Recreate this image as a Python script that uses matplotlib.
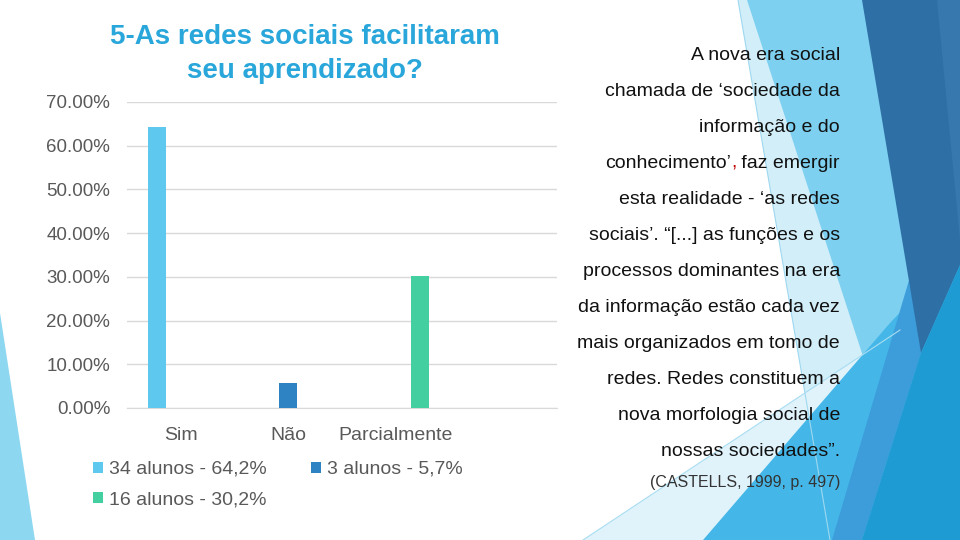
import matplotlib
matplotlib.use("Agg")
import matplotlib.pyplot as plt
from matplotlib.patches import Polygon
from matplotlib.ticker import FuncFormatter

plt.rcParams['font.family'] = ['Liberation Sans', 'DejaVu Sans']

# chart data
categories = ["Sim", "Não", "Parcialmente", ""]
series_labels = ["34 alunos - 64,2%", "3 alunos - 5,7%", "16 alunos - 30,2%"]
sim_values = [0.642, 0.0, 0.0, 0.0]
nao_values = [0.0, 0.057, 0.0, 0.0]
parcial_values = [0.0, 0.0, 0.302, 0.0]
series_colors = ["#5EC8EE", "#2E83C3", "#44CFA1"]
y_ticks = [0.0, 0.1, 0.2, 0.3, 0.4, 0.5, 0.6, 0.7]

title_lines = ["5-As redes sociais facilitaram", "seu aprendizado?"]
quote_lines = [
    "A nova era social",
    "chamada de ‘sociedade da",
    "informação e do",
    None,  # line with the red comma, drawn piece by piece
    "esta realidade - ‘as redes",
    "sociais’. “[...] as funções e os",
    "processos dominantes na era",
    "da informação estão cada vez",
    "mais organizados em tomo de",
    "redes. Redes constituem a",
    "nova morfologia social de",
    "nossas sociedades”.",
]
citation = "(CASTELLS, 1999, p. 497)"

fig = plt.figure(figsize=(9.6, 5.4), dpi=100)
fig.patch.set_facecolor("white")

# background layer in pixel coords (slide decoration + free text)
bg = fig.add_axes([0, 0, 1, 1], zorder=0)
bg.set_xlim(0, 960)
bg.set_ylim(540, 0)
bg.axis("off")

facets = [
    ([(738, 0), (960, 0), (960, 540), (830, 540)], "#D2EEF9"),
    ([(583, 540), (870, 350), (895, 320), (703, 540)], "#E0F3FB"),
    ([(747, 0), (960, 0), (960, 540), (900, 470)], "#7ED0F1"),
    ([(703, 540), (890, 323), (960, 250), (960, 540)], "#44B7E8"),
    ([(915, 260), (921, 353), (862, 540), (832, 540)], "#3C9DDA"),
    ([(862, 0), (960, 0), (960, 265), (921, 353)], "#2E70A5"),
    ([(937, 0), (960, 0), (960, 240)], "#3779AF"),
    ([(921, 353), (960, 265), (960, 540), (862, 540)], "#1F9BD3"),
    ([(0, 313), (35, 540), (0, 540)], "#8DD7F1"),
]
for pts, col in facets:
    bg.add_patch(Polygon(pts, closed=True, facecolor=col, edgecolor="none"))
bg.plot([738, 830], [0, 540], color="#9ED8F0", lw=0.8)
bg.plot([583, 900], [540, 330], color="#A8DDF2", lw=0.8)

for i, line in enumerate(title_lines):
    bg.text(305, 37 + 34 * i, line, ha="center", va="center", fontsize=20,
            fontweight="bold", color="#29A6DA")

y0, dy = 55, 36
for i, line in enumerate(quote_lines):
    if line is not None:
        bg.text(840, y0 + dy * i, line, ha="right", va="center", fontsize=14, color="#111111")
t_end = bg.text(840, y0 + dy * 3, " faz emergir", ha="right", va="center", fontsize=14, color="#111111")
t_comma = bg.annotate(",", xy=(0, 0), xycoords=t_end, ha="right", va="bottom",
                      fontsize=14, color="#C00000")
bg.annotate("conhecimento’", xy=(0, 0), xycoords=t_comma, ha="right", va="bottom",
            fontsize=14, color="#111111")
bg.text(840, 482, citation, ha="right", va="center", fontsize=11.5, color="#333333")

# bar chart
ax = fig.add_axes([127 / 960, 132 / 540, 430 / 960, 306 / 540], zorder=1)
ax.set_facecolor("none")
x = list(range(len(categories)))
slot, width = 0.223, 0.167
bars = []
for i, (vals, col, lab) in enumerate(zip([sim_values, nao_values, parcial_values],
                                         series_colors, series_labels)):
    b = ax.bar([p + (i - 1) * slot for p in x], vals, width=width, color=col, label=lab, zorder=3)
    bars.append(b)

ax.set_xlim(-0.5, len(categories) - 0.5)
ax.set_ylim(0, 0.7)
ax.set_yticks(y_ticks)
ax.yaxis.set_major_formatter(FuncFormatter(lambda v, _: f"{v * 100:.2f}%"))
ax.set_xticks(x)
ax.set_xticklabels(categories)
ax.grid(axis="y", color="#D9D9D9", lw=1)
ax.set_axisbelow(True)
for s in ["top", "right", "left"]:
    ax.spines[s].set_visible(False)
ax.spines["bottom"].set_color("#D9D9D9")
ax.tick_params(axis="y", length=0, pad=12, labelsize=13.5, labelcolor="#595959")
ax.tick_params(axis="x", length=0, pad=13.5, labelsize=14, labelcolor="#595959")

# row-first order in a 2-column legend
order = [0, 2, 1]
fig.legend([bars[k] for k in order], [series_labels[k] for k in order],
           loc="upper left", bbox_to_anchor=(93 / 960, 1 - 461 / 540), ncol=2,
           frameon=False, fontsize=14, labelcolor="#595959", borderpad=0, borderaxespad=0,
           handlelength=0.5, handleheight=0.5, handletextpad=0.3, columnspacing=2.3,
           labelspacing=0.7)

fig.savefig("out.png", dpi=100)
